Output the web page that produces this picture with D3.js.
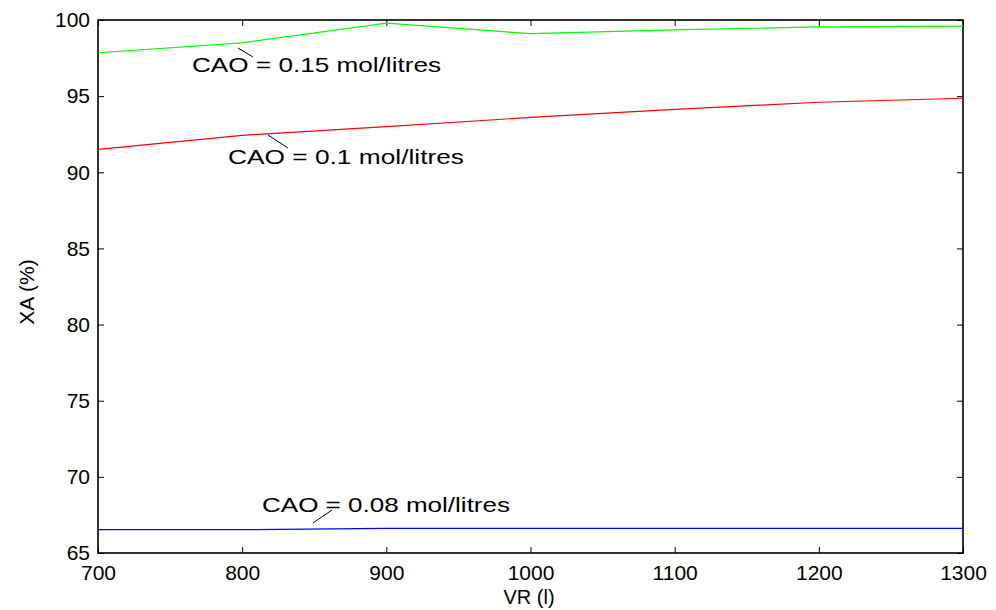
<!DOCTYPE html>
<html>
<head>
<meta charset="utf-8">
<script src="https://d3js.org/d3.v7.min.js"></script>
<style>
  body { margin: 0; background: #fff; }
  text { font-family: "Liberation Sans", Arial, sans-serif; }
</style>
</head>
<body>
<svg width="996" height="610"></svg>
<script>
// data
var VR = [700, 800, 900, 1000, 1100, 1200, 1300];
var xa015 = [97.85, 98.5, 99.8, 99.1, 99.35, 99.55, 99.6];
var xa010 = [91.5, 92.43, 93.0, 93.6, 94.13, 94.6, 94.86];
var xa008 = [66.53, 66.53, 66.62, 66.62, 66.62, 66.62, 66.62];
var xTicks = [700, 800, 900, 1000, 1100, 1200, 1300];
var yTicks = [65, 70, 75, 80, 85, 90, 95, 100];

var series = [
  {name: "CAO = 0.15 mol/litres", vals: xa015, color: "#00ff00", lab: [192, 72], len: 249, lead: [[238, 48], [253, 57]]},
  {name: "CAO = 0.1 mol/litres", vals: xa010, color: "#ff0000", lab: [228, 164], len: 236, lead: [[268, 135], [288, 148]]},
  {name: "CAO = 0.08 mol/litres", vals: xa008, color: "#0000ff", lab: [262, 512], len: 248, lead: [[332, 510], [313, 523]]}
];

var svg = d3.select("svg");
var pL = 98, pR = 963, pT = 20, pB = 553;

var x = d3.scaleLinear().domain([700, 1300]).range([pL, pR]);
var y = d3.scaleLinear().domain([65, 100]).range([pB, pT]);

// frame
svg.append("rect")
  .attr("x", pL).attr("y", pT)
  .attr("width", pR - pL).attr("height", pB - pT)
  .attr("fill", "none").attr("stroke", "#000").attr("stroke-width", 1.6);

function noDomain(g) { g.select(".domain").remove(); }

svg.append("g").attr("transform", "translate(0," + pB + ")")
  .call(d3.axisBottom(x).tickValues(xTicks).tickFormat(d3.format("d")).tickSizeInner(-6).tickSizeOuter(0).tickPadding(12))
  .call(noDomain);
svg.append("g").attr("transform", "translate(0," + pT + ")")
  .call(d3.axisTop(x).tickValues(xTicks).tickSizeInner(-6).tickSizeOuter(0).tickFormat(""))
  .call(noDomain);
svg.append("g").attr("transform", "translate(" + pL + ",0)")
  .call(d3.axisLeft(y).tickValues(yTicks).tickSizeInner(-6).tickSizeOuter(0).tickPadding(8))
  .call(noDomain);
svg.append("g").attr("transform", "translate(" + pR + ",0)")
  .call(d3.axisRight(y).tickValues(yTicks).tickSizeInner(-6).tickSizeOuter(0).tickFormat(""))
  .call(noDomain);

svg.selectAll(".tick line").attr("stroke", "#000");
svg.selectAll(".tick text")
  .attr("fill", "#000")
  .style("font-size", "21px")
  .style("font-family", "'Liberation Sans', Arial, sans-serif");

var line = d3.line()
  .x(function(d, i) { return x(VR[i]); })
  .y(function(d) { return y(d); });

series.forEach(function(s) {
  svg.append("path")
    .datum(s.vals)
    .attr("d", line)
    .attr("fill", "none")
    .attr("stroke", s.color)
    .attr("stroke-width", 1.2);
  svg.append("line")
    .attr("x1", s.lead[0][0]).attr("y1", s.lead[0][1])
    .attr("x2", s.lead[1][0]).attr("y2", s.lead[1][1])
    .attr("stroke", "#000").attr("stroke-width", 1);
  svg.append("text")
    .attr("x", s.lab[0]).attr("y", s.lab[1])
    .attr("textLength", s.len)
    .attr("lengthAdjust", "spacingAndGlyphs")
    .style("font-size", "21px")
    .text(s.name);
});

svg.append("text")
  .attr("x", 529).attr("y", 604)
  .attr("text-anchor", "middle")
  .style("font-size", "20px")
  .text("VR (l)");

svg.append("text")
  .attr("transform", "translate(34,292) rotate(-90)")
  .attr("text-anchor", "middle")
  .style("font-size", "21px")
  .text("XA (%)");
</script>
</body>
</html>
